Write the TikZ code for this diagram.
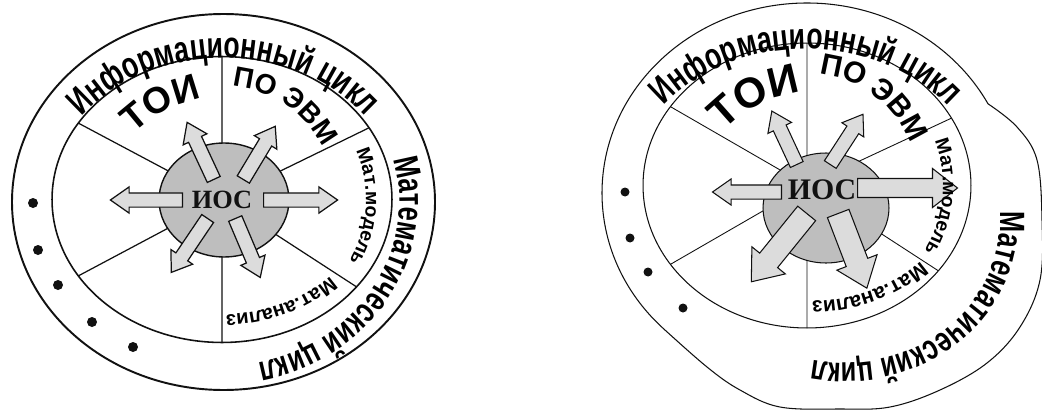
\documentclass[tikz,border=0pt]{standalone}
\usepackage{fontspec}
\setmainfont{Liberation Sans}
\newfontfamily\arcfont[FakeStretch=0.72]{Liberation Sans}
\newfontfamily\iosfont{Liberation Serif}
\usetikzlibrary{shapes.geometric,shapes.arrows,decorations.text}
\definecolor{ink}{HTML}{111111}
\definecolor{diskfill}{HTML}{BEBEBE}
\definecolor{arrowfill}{HTML}{DCDCDC}
\newcommand{\ringfont}[1]{\arcfont\bfseries\fontsize{#1}{#1}\selectfont}
\newcommand{\sectfont}[1]{\bfseries\fontsize{#1}{#1}\selectfont}
\tikzset{
  ringline/.style={draw=ink,line width=#1},
  innerring/.style={ellipse,draw=ink,inner sep=0pt,outer sep=0pt},
  spoke/.style={draw=ink,line width=#1},
  iosdisk/.style={ellipse,draw=ink,fill=diskfill,inner sep=0pt,line width=0.8pt},
  iostext/.style={text=ink,inner sep=0pt},
  rayarrow/.style={single arrow,draw=ink,fill=arrowfill,line width=0.7pt,anchor=tail,
    inner xsep=0pt,inner ysep=0.13cm,single arrow head extend=0.12cm,single arrow tip angle=70},
  bigarrow/.style={rayarrow,inner ysep=0.2cm,single arrow head extend=0.2cm,single arrow tip angle=76},
  ringtext/.style={decorate,decoration={text along path,text align=center,text={#1}}},
  cycledot/.style={fill=ink},
}

\begin{document}
\begin{tikzpicture}[x=0.02cm,y=0.02cm]
  \useasboundingbox (0,0) rectangle (1042,410);

  % left picture
  \coordinate (lc) at (223.5,208);
  \draw[ringline=1.1pt] (lc) ellipse[x radius=211.5,y radius=188];
  \node[innerring,line width=0.9pt,minimum width=6.8cm,minimum height=5.72cm] (lin) at (222,210.5) {};
  \draw[spoke=0.7pt] (lin.north) -- (lin.south)
    (lin.center) -- (lin.152) (lin.center) -- (lin.26)
    (lin.center) -- (lin.208) (lin.center) -- (lin.327);
  \node[iosdisk,minimum width=2.6cm,minimum height=2.28cm] (ldisk) at (224,210) {};
  \node[iostext,font={\iosfont\bfseries\fontsize{15pt}{15pt}\selectfont}] (lios) at (222,210) {ИОС};

  \node[rayarrow,rotate=180,minimum height=1.44cm] (la1) at (183,210) {};
  \node[rayarrow,rotate=0,minimum height=1.48cm] (la2) at (263,210) {};
  \node[rayarrow,rotate=115,minimum height=1.26cm] (la3) at (214,230) {};
  \node[rayarrow,rotate=59,minimum height=1.24cm] (la4) at (243,230) {};
  \node[rayarrow,rotate=236,minimum height=1.3cm] (la5) at (208,192) {};
  \node[rayarrow,rotate=293,minimum height=1.28cm] (la6) at (235,192) {};

  \path[ringtext={|\ringfont{21pt}|Информационный цикл}]
    (lc) ++(160:176 and 144) arc[start angle=160,end angle=20,x radius=176,y radius=144];
  \path[ringtext={|\ringfont{20pt}|Математический цикл}]
    (lc) ++(49:176 and 164) arc[start angle=49,end angle=-111,x radius=176,y radius=164];
  \path[ringtext={|\sectfont{21pt}|ТОИ}]
    (229.4,178) ++(168:137) arc[start angle=168,end angle=68,radius=137];
  \path[ringtext={|\sectfont{16pt}|ПО ЭВМ}]
    (lin.center) ++(106:114) arc[start angle=106,end angle=6,radius=114];
  \path[ringtext={|\sectfont{11pt}|Мат.модель}]
    (lin.center) ++(47:144 and 132) arc[start angle=47,end angle=-53,x radius=144,y radius=132];
  \path[ringtext={|\sectfont{11.5pt}|Мат.анализ}]
    (lin.center) ++(-13:145 and 115) arc[start angle=-13,end angle=-113,x radius=145,y radius=115];

  \foreach \p in {(33,207),(38,160),(58,125),(92,88),(133,63)}
    \fill[cycledot] \p circle[radius=5];

  % right picture
  \coordinate (rc) at (807,217);
  \draw[ringline=0.6pt] (rc) ++(225:205 and 190) coordinate (rj2)
    arc[start angle=225,end angle=28,x radius=205,y radius=190] coordinate (rj1);
  \draw[ringline=0.6pt] plot[smooth,tension=0.6] coordinates {(rj1) (1017,283) (1037,250)
    (1042,190) (1040,130) (1020,83) (987,47) (940,20) (890,3) (840,1) (780,3) (740,20) (707,43) (rj2)};
  \node[innerring,line width=0.6pt,minimum width=6.56cm,minimum height=5.7cm] (rin) at (807,224.5) {};
  \draw[spoke=0.5pt] (rin.north) -- (rin.south)
    (rin.center) -- (rin.150) (rin.center) -- (rin.25)
    (rin.center) -- (rin.210) (rin.center) -- (rin.327);
  \node[iosdisk,line width=0.6pt,minimum width=2.52cm,minimum height=2.2cm] (rdisk) at (826,202) {};
  \node[iostext,font={\iosfont\bfseries\fontsize{17pt}{17pt}\selectfont}] (rios) at (822,220) {ИОС};

  \node[rayarrow,line width=0.6pt,rotate=180,minimum height=1.38cm] (ra1) at (782,218) {};
  \node[bigarrow,line width=0.6pt,inner ysep=0.18cm,rotate=0,minimum height=2cm] (ra2) at (857,222) {};
  \node[rayarrow,line width=0.6pt,rotate=115,minimum height=1.18cm] (ra3) at (797,245) {};
  \node[rayarrow,line width=0.6pt,rotate=57,minimum height=1.2cm] (ra4) at (830,245) {};
  \node[bigarrow,line width=0.6pt,inner ysep=0.22cm,rotate=231,minimum height=1.76cm] (ra5) at (807,197) {};
  \node[bigarrow,line width=0.6pt,inner ysep=0.22cm,rotate=291,minimum height=1.6cm] (ra6) at (838,197) {};

  \path[ringtext={|\ringfont{21pt}|Информационный цикл}]
    (806,220) ++(160:177 and 141) arc[start angle=160,end angle=20,x radius=177,y radius=141];
  \path[ringtext={|\ringfont{20pt}|Математический цикл}]
    (845,188) ++(32:155 and 141) arc[start angle=32,end angle=-128,x radius=155,y radius=141];
  \path[ringtext={|\sectfont{24pt}|ТОИ}]
    (815.6,194) ++(167:125) arc[start angle=167,end angle=67,radius=125];
  \path[ringtext={|\sectfont{17pt}|ПО ЭВМ}]
    (rin.center) ++(103:112) arc[start angle=103,end angle=3,radius=112];
  \path[ringtext={|\sectfont{11pt}|Мат.модель}]
    (rin.center) ++(45:136 and 130) arc[start angle=45,end angle=-55,x radius=136,y radius=130];
  \path[ringtext={|\sectfont{12pt}|Мат.анализ}]
    (rin.center) ++(-12:150 and 116) arc[start angle=-12,end angle=-112,x radius=150,y radius=116];

  \foreach \p in {(625,218),(630,172),(648,138),(683,102)}
    \fill[cycledot] \p circle[radius=4.5];
\end{tikzpicture}
\end{document}
